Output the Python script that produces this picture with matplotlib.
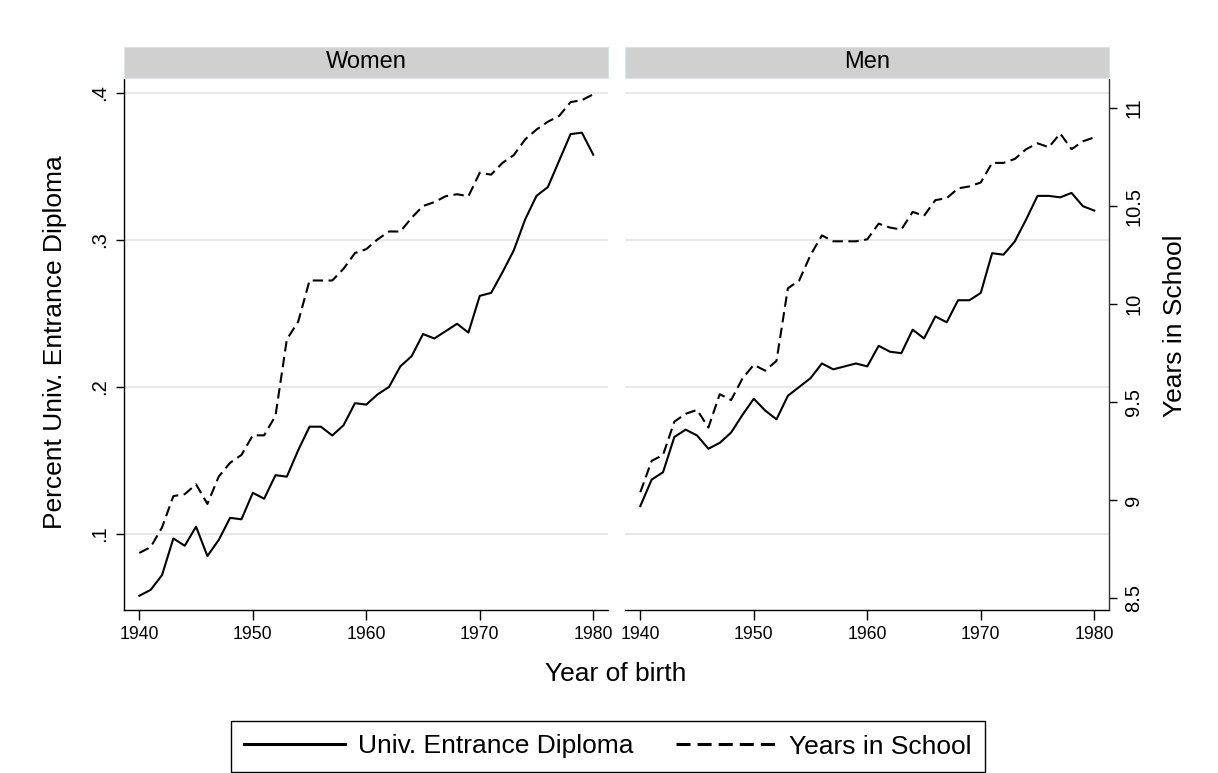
''' two panel line chart: diploma share and years in school by birth year'''
import matplotlib.pyplot as plt
from matplotlib.lines import Line2D

years = list(range(1940, 1981))

women_diploma = [0.058, 0.062, 0.072, 0.097, 0.092, 0.105, 0.085, 0.096, 0.111, 0.110,
                 0.128, 0.124, 0.140, 0.139, 0.157, 0.173, 0.173, 0.167, 0.174, 0.189,
                 0.188, 0.195, 0.200, 0.214, 0.221, 0.236, 0.233, 0.238, 0.243, 0.237,
                 0.262, 0.264, 0.278, 0.293, 0.314, 0.330, 0.336, 0.354, 0.372, 0.373,
                 0.358]
women_school = [8.73, 8.76, 8.86, 9.02, 9.03, 9.08, 8.98, 9.12, 9.19, 9.23,
                9.33, 9.33, 9.43, 9.82, 9.91, 10.12, 10.12, 10.12, 10.18, 10.26,
                10.28, 10.33, 10.37, 10.37, 10.44, 10.50, 10.52, 10.55, 10.56, 10.55,
                10.67, 10.66, 10.72, 10.76, 10.84, 10.89, 10.93, 10.96, 11.03, 11.04,
                11.07]
men_diploma = [0.119, 0.137, 0.142, 0.166, 0.171, 0.167, 0.158, 0.162, 0.169, 0.181,
               0.192, 0.184, 0.178, 0.194, 0.200, 0.206, 0.216, 0.212, 0.214, 0.216,
               0.214, 0.228, 0.224, 0.223, 0.239, 0.233, 0.248, 0.244, 0.259, 0.259,
               0.264, 0.291, 0.290, 0.299, 0.314, 0.330, 0.330, 0.329, 0.332, 0.323,
               0.320]
men_school = [9.04, 9.20, 9.23, 9.40, 9.44, 9.46, 9.37, 9.54, 9.51, 9.62,
              9.69, 9.66, 9.71, 10.08, 10.12, 10.25, 10.35, 10.32, 10.32, 10.32,
              10.33, 10.41, 10.39, 10.38, 10.47, 10.45, 10.53, 10.54, 10.59, 10.60,
              10.62, 10.72, 10.72, 10.74, 10.79, 10.82, 10.80, 10.87, 10.79, 10.83,
              10.85]

panel_names = ['Women', 'Men']
x_ticks = [1940, 1950, 1960, 1970, 1980]
left_ticks = [0.1, 0.2, 0.3, 0.4]
left_labels = ['.1', '.2', '.3', '.4']
right_ticks = [8.5, 9, 9.5, 10, 10.5, 11]
right_labels = ['8.5', '9', '9.5', '10', '10.5', '11']
series_labels = ['Univ. Entrance Diploma', 'Years in School']


def main():
    ''' main function'''
    plt.rcParams['font.family'] = ['Liberation Sans', 'DejaVu Sans']
    W, H = 1218, 773
    fig = plt.figure(figsize=(W / 100, H / 100), dpi=100)

    lefts = [124, 625]
    width = 484
    top, bottom = 79, 610
    dash = (5, 2.6)

    for i, name in enumerate(panel_names):
        dip = [women_diploma, men_diploma][i]
        sch = [women_school, men_school][i]
        ax = fig.add_axes([lefts[i] / W, 1 - bottom / H, width / W, (bottom - top) / H])
        ax2 = ax.twinx()

        ax.plot(years, dip, color='black', lw=1.5)
        ax2.plot(years, sch, color='black', lw=1.5, dashes=dash)

        ax.set_xlim(1938.65, 1981.3)
        ax.set_ylim(0.0483, 0.4095)
        ax2.set_ylim(8.439, 11.148)

        ax.set_xticks(x_ticks)
        ax.set_xticklabels([str(t) for t in x_ticks], fontsize=12.7)
        ax.tick_params(axis='x', length=7.5, width=1, pad=4)

        ax.set_yticks(left_ticks)
        ax2.set_yticks(right_ticks)
        ax.grid(axis='y', color='#e6e6e6', lw=1.3)
        ax.set_axisbelow(True)

        for sp in ['top', 'right']:
            ax.spines[sp].set_visible(False)
        for sp in ['top', 'left', 'bottom']:
            ax2.spines[sp].set_visible(False)
        ax.spines['bottom'].set_linewidth(1)

        if i == 0:
            ax.set_yticklabels(left_labels, fontsize=14.5, rotation=90,
                               va='center', ha='right')
            ax.tick_params(axis='y', length=6, width=1, pad=5)
            ax.spines['left'].set_linewidth(1)
            ax2.spines['right'].set_visible(False)
            ax2.tick_params(axis='y', right=False, labelright=False)
        else:
            ax.spines['left'].set_visible(False)
            ax.tick_params(axis='y', left=False, labelleft=False)
            ax2.set_yticklabels(right_labels, fontsize=14.5, rotation=90,
                                va='center', ha='left')
            ax2.tick_params(axis='y', length=6, width=1, pad=5)
            ax2.spines['right'].set_linewidth(1)
            ax2.spines['right'].set_color('#333333')

        # strip with panel title
        strip = fig.add_axes([lefts[i] / W, 1 - 78 / H, width / W, 31 / H])
        strip.set_facecolor('#d0d0d0')
        strip.set_xticks([])
        strip.set_yticks([])
        for sp in strip.spines.values():
            sp.set_color('#d9e3ea')
        strip.text(0.5, 0.5, name, ha='center', va='center', fontsize=17,
                   transform=strip.transAxes)

    fig.text(616 / W, 1 - 674 / H, 'Year of birth', ha='center', va='center',
             fontsize=19)
    fig.text(55 / W, 1 - 342 / H, 'Percent Univ. Entrance Diploma', ha='center',
             va='center', rotation=90, fontsize=19)
    fig.text(1175 / W, 1 - 326 / H, 'Years in School', ha='center',
             va='center', rotation=90, fontsize=19)

    handles = [Line2D([], [], color='black', lw=2.2),
               Line2D([], [], color='black', lw=2.2, dashes=(4.6, 2.3))]
    leg = fig.legend(handles, series_labels, loc='center',
                     bbox_to_anchor=(608 / W, 1 - 746.5 / H), ncol=2,
                     fontsize=19, handlelength=3.8, handletextpad=0.5,
                     columnspacing=1.6, fancybox=False, edgecolor='black',
                     framealpha=1, borderpad=0.5, borderaxespad=0)
    leg.get_frame().set_linewidth(1)

    fig.savefig('out.png', dpi=100)


if __name__ == '__main__':
    main()
